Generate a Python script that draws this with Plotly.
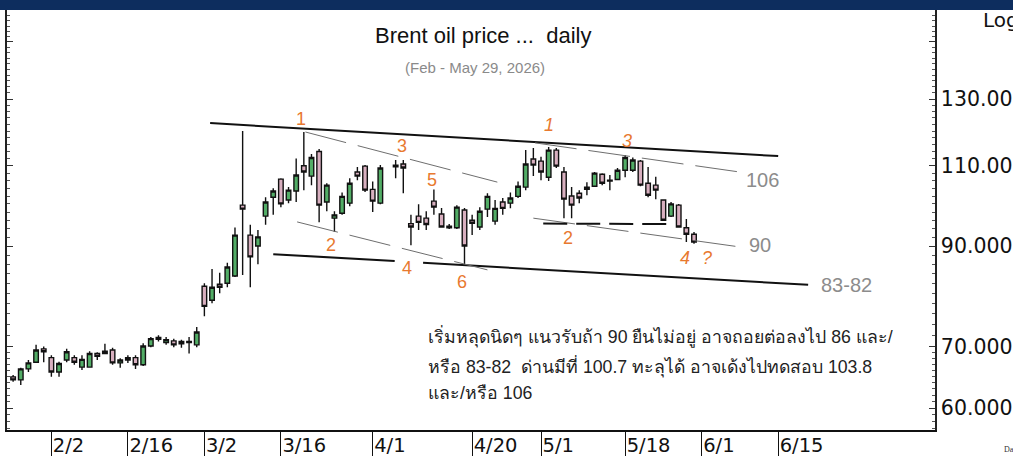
import math
import pandas as pd
import plotly.graph_objects as go

# ---------------- data ----------------
holiday = ["2026-04-03"]  # empty slot on the chart (no trading)
dates = [d for d in pd.bdate_range("2026-01-26", "2026-05-29") if d.strftime("%Y-%m-%d") not in holiday]

open_ = [64.9, 64.4, 66.2, 67.3, 69.6, 68.1, 65.7, 67.7, 68.1, 66.5,
         66.5, 68.8, 68.8, 69.4, 67.2, 67.7, 68.1, 66.9, 70.1, 71.6,
         70.7, 71.0, 70.9, 70.9, 70.3, 81.4, 78.6, 81.8, 82.0, 83.5,
         99.7, 92.5, 90.0, 97.0, 101.7, 106.4, 101.0, 103.3, 110.0, 107.2,
         114.0, 100.5, 96.5, 97.7, 100.2, 108.3, 109.9, 103.7, 100.2,
         110.2, 110.5, 95.2, 97.0, 96.5, 100.7, 97.5, 94.2, 94.2, 98.5,
         96.0, 94.4, 98.7, 95.8, 100.5, 100.2, 101.9, 104.3, 111.9, 111.3,
         106.9, 114.4, 108.3, 102.0, 102.7, 103.7, 104.5, 107.7, 106.1, 106.3,
         108.8, 108.8, 111.3, 105.3, 104.8, 101.0, 97.0, 99.7, 94.2, 92.7]
high = [65.2, 66.4, 67.7, 70.3, 70.0, 68.5, 67.4, 69.6, 68.5, 68.5,
        69.2, 69.0, 70.5, 69.8, 68.0, 68.5, 68.5, 70.6, 71.7, 72.0,
        71.7, 71.4, 71.2, 71.7, 73.5, 82.0, 85.0, 84.2, 86.3, 94.3,
        120.0, 94.9, 93.7, 101.7, 104.0, 106.6, 104.3, 112.0, 119.7, 113.3,
        114.7, 105.3, 98.2, 102.9, 106.6, 109.7, 110.2, 105.8, 110.2,
        111.6, 111.6, 97.3, 99.9, 98.2, 103.7, 99.0, 95.1, 99.7, 99.0,
        97.3, 99.2, 102.7, 101.0, 101.5, 102.9, 105.8, 114.4, 115.0, 112.5,
        115.3, 115.0, 109.7, 104.3, 103.5, 105.6, 108.3, 108.0, 107.5, 109.4,
        113.0, 112.3, 111.6, 109.7, 107.0, 101.2, 100.5, 100.0, 96.3, 93.2]
low = [64.1, 63.6, 65.7, 67.2, 67.3, 64.9, 64.9, 67.3, 66.9, 66.0,
       66.4, 67.7, 68.7, 66.9, 66.4, 67.2, 66.2, 66.7, 69.9, 70.9,
       70.3, 69.9, 69.8, 68.8, 69.9, 75.5, 78.0, 80.0, 81.2, 83.3,
       83.7, 81.2, 86.0, 94.9, 97.3, 99.2, 100.2, 100.5, 103.5, 104.8,
       95.5, 98.2, 93.2, 97.3, 99.4, 106.1, 103.0, 98.0, 99.9,
       106.6, 102.7, 90.2, 93.7, 93.7, 97.3, 94.2, 93.9, 93.9, 85.8,
       92.5, 93.7, 96.8, 94.9, 97.3, 98.9, 101.5, 103.5, 107.2, 106.1,
       105.9, 109.4, 96.5, 96.5, 100.2, 102.2, 104.3, 104.8, 103.5, 106.1,
       106.9, 108.3, 104.5, 101.7, 101.2, 95.8, 96.8, 94.2, 90.9, 90.5]
close = [64.4, 66.2, 67.2, 69.4, 69.1, 65.7, 67.1, 69.1, 67.3, 67.8,
         68.8, 68.3, 69.2, 67.2, 67.7, 68.1, 66.9, 70.1, 71.4, 71.3,
         71.2, 70.3, 70.5, 70.7, 72.6, 77.4, 81.2, 81.2, 85.4, 92.5,
         98.7, 87.6, 92.1, 100.5, 103.3, 100.0, 103.5, 107.5, 108.3, 112.3,
         99.7, 104.8, 97.3, 101.9, 105.3, 107.2, 103.5, 100.7, 109.4,
         109.7, 109.4, 94.4, 95.5, 95.0, 99.2, 94.4, 94.6, 99.2, 90.0,
         95.3, 98.2, 101.9, 98.9, 98.9, 101.5, 104.5, 110.5, 110.2, 108.3,
         114.4, 109.9, 101.2, 99.7, 101.5, 104.3, 108.0, 105.3, 105.9, 108.8,
         112.3, 111.6, 104.8, 102.2, 103.5, 96.0, 100.0, 94.4, 92.7, 90.9]

tick_dates = ["2026-02-02", "2026-02-16", "2026-03-02", "2026-03-16", "2026-04-01",
              "2026-04-20", "2026-05-01", "2026-05-18", "2026-06-01", "2026-06-15"]
tick_text = ["2/2", "2/16", "3/2", "3/16", "4/1", "4/20", "5/1", "5/18", "6/1", "6/15"]

y_tick_vals = [60, 70, 90, 110, 130, 150]
y_tick_text = ["60.000", "70.000", "90.000", "110.000", "130.000", ""]
y_minor_vals = [v for v in range(57, 70)] + [v for v in range(72, 162, 2) if v not in y_tick_vals]

# trend lines: (start date, start price, end date, end price)
solid_lines = [("2026-03-02 18:00", 122.4, "2026-06-15 00:00", 112.7),
               ("2026-03-13 00:00", 88.2, "2026-04-03 21:00", 86.7),
               ("2026-04-09 14:00", 86.3, "2026-06-18 22:00", 81.7)]
gray_dashed = [("2026-03-19 05:00", 119.7, "2026-04-23 07:00", 105.6),
               ("2026-03-18 03:00", 95.6, "2026-04-22 00:00", 84.8),
               ("2026-04-30 05:00", 116.5, "2026-06-08 00:00", 108.3),
               ("2026-04-30 00:00", 96.5, "2026-06-08 00:00", 89.8)]
black_dashed = [("2026-05-01 07:00", 95.2, "2026-05-25 22:00", 95.1)]

# wave labels: (text, date, price, italic)
wave_labels = [("1", "2026-03-18 15:30", 123.6, False),
               ("2", "2026-03-24 13:40", 90.2, False),
               ("3", "2026-04-06 20:24", 115.6, False),
               ("4", "2026-04-07 12:00", 85.2, False),
               ("5", "2026-04-10 18:28", 106.1, False),
               ("6", "2026-04-16 16:48", 82.3, False),
               ("1", "2026-05-04 01:40", 121.8, True),
               ("3", "2026-05-18 06:14", 117.0, True),
               ("2", "2026-05-06 13:12", 91.8, False),
               ("4", "2026-05-27 20:10", 87.3, True),
               ("?", "2026-06-01 17:17", 87.3, True)]
level_labels = [("106", "2026-06-10 21:36", 106.1),
                ("90", "2026-06-10 15:36", 90.2),
                ("83-82", "2026-06-25 21:36", 81.6)]

title_text = "Brent oil price ...\u00a0\u00a0daily"
subtitle_text = "(Feb - May 29, 2026)"
comment_lines = ["เริ่มหลุดนิดๆ แนวรับถ้า 90 ยืนไม่อยู่ อาจถอยต่อลงไป 86 และ/",
                 "หรือ 83-82\u00a0\u00a0ด่านมีที่ 100.7 ทะลุได้ อาจเด้งไปทดสอบ 103.8",
                 "และ/หรือ 106"]

# ---------------- figure ----------------
W, H = 1013, 456
ML, MR, MT, MB = 7, 78, 10, 26
PW, PH = W - ML - MR, H - MT - MB


def px(x):
    return (x - ML) / PW


def py(y):
    return (H - MB - y) / PH


ORANGE = "#e8792f"
GRAY = "#8c8c8c"

fig = go.Figure()
fig.add_trace(go.Candlestick(
    x=dates, open=open_, high=high, low=low, close=close,
    increasing=dict(fillcolor="#52ad66", line=dict(color="#111111", width=1.4)),
    decreasing=dict(fillcolor="#d8afbf", line=dict(color="#111111", width=1.4)),
    whiskerwidth=0, hoverinfo="skip", showlegend=False))

for (d0, p0, d1, p1) in solid_lines:
    fig.add_trace(go.Scatter(x=[d0, d1], y=[p0, p1], mode="lines",
                             line=dict(color="#111111", width=2), hoverinfo="skip", showlegend=False))
for (d0, p0, d1, p1) in gray_dashed:
    fig.add_trace(go.Scatter(x=[d0, d1], y=[p0, p1], mode="lines",
                             line=dict(color="#6e6e6e", width=1, dash="42px,12px"),
                             hoverinfo="skip", showlegend=False))
for (d0, p0, d1, p1) in black_dashed:
    fig.add_trace(go.Scatter(x=[d0, d1], y=[p0, p1], mode="lines",
                             line=dict(color="#111111", width=2, dash="24px,9px"),
                             hoverinfo="skip", showlegend=False))

ann = []
for (t, d, p, it) in wave_labels:
    txt = f"<i>{t}</i>" if it else t
    ann.append(dict(x=d, y=math.log10(p), xref="x", yref="y", text=txt, showarrow=False,
                    xanchor="center", yanchor="middle",
                    font=dict(family="Liberation Sans, Arial", size=18, color=ORANGE)))
for (t, d, p) in level_labels:
    ann.append(dict(x=d, y=math.log10(p), xref="x", yref="y", text=t, showarrow=False,
                    xanchor="center", yanchor="middle",
                    font=dict(family="Liberation Sans, Arial", size=20, color=GRAY)))

ann.append(dict(x=px(483), y=py(35), xref="paper", yref="paper", text=title_text, showarrow=False,
                xanchor="center", yanchor="middle",
                font=dict(family="Liberation Sans, Arial", size=22, color="#111111")))
ann.append(dict(x=px(475), y=py(68), xref="paper", yref="paper", text=subtitle_text, showarrow=False,
                xanchor="center", yanchor="middle",
                font=dict(family="Liberation Sans, Arial", size=15, color="#8a8a8a")))
ann.append(dict(x=px(981), y=py(20), xref="paper", yref="paper", text="Log", showarrow=False,
                xanchor="left", yanchor="middle",
                font=dict(family="DejaVu Sans", size=20, color="#111111")))
ann.append(dict(x=px(1002), y=py(449), xref="paper", yref="paper", text="Date", showarrow=False,
                xanchor="left", yanchor="middle",
                font=dict(family="Liberation Serif", size=8, color="#333333")))
for k, (line, yy) in enumerate(zip(comment_lines, [336, 366, 393])):
    ann.append(dict(x=px(426), y=py(yy), xref="paper", yref="paper", text=line, showarrow=False,
                    xanchor="left", yanchor="middle",
                    font=dict(family="Liberation Sans, Noto Sans, sans-serif", size=17.7,
                              color="#222222")))

shapes = [dict(type="rect", xref="paper", yref="paper", x0=px(0), x1=px(W), y0=py(10), y1=py(0),
               fillcolor="#0d2d5e", line=dict(width=0), layer="above")]

fig.update_layout(
    width=W, height=H, margin=dict(l=ML, r=MR, t=MT, b=MB, pad=0, autoexpand=False),
    paper_bgcolor="white", plot_bgcolor="white", showlegend=False, boxgap=0.15,
    annotations=ann, shapes=shapes,
    xaxis=dict(type="date", range=["2026-01-23 04:48", "2026-07-13 12:00"],
               rangebreaks=[dict(bounds=["sat", "mon"])],
               rangeslider=dict(visible=False), automargin=False,
               tickmode="array", tickvals=tick_dates, ticktext=tick_text,
               ticks="outside", ticklen=26, tickwidth=1, tickcolor="#111111",
               ticklabelposition="outside right", ticklabelstandoff=-3,
               tickfont=dict(family="DejaVu Sans", size=19.5, color="#111111"),
               showline=True, linecolor="#111111", linewidth=2, showgrid=False, zeroline=False),
    yaxis=dict(type="log", side="right", automargin=False,
               range=[math.log10(56.82), math.log10(162.4)],
               tickmode="array", tickvals=y_tick_vals, ticktext=y_tick_text,
               ticks="inside", ticklen=6, tickwidth=1, tickcolor="#333333",
               minor=dict(tickmode="array", tickvals=y_minor_vals, ticks="inside", ticklen=3,
                          tickcolor="#555555", showgrid=False),
               tickfont=dict(family="DejaVu Sans", size=20.5, color="#111111"),
               showline=True, linecolor="#222222", linewidth=1.5, mirror="ticks",
               showgrid=False, zeroline=False),
)

fig.write_html("out.html", config={"displayModeBar": False},
               post_script="document.body.style.margin='0px';document.body.style.overflow='hidden';")
